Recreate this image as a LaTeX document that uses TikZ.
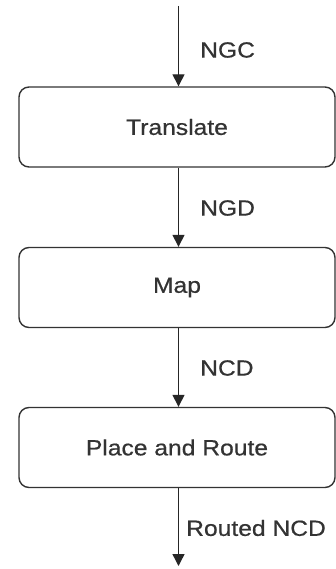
\documentclass[tikz,border=0pt]{standalone}
\usepackage{fontspec}
\setmainfont{Liberation Sans}[FakeStretch=1.12,FakeBold=0.6]
\usetikzlibrary{arrows.meta}
\begin{document}
\begin{tikzpicture}[x=1pt,y=-1pt,
  stage/.style={draw=black!80, line width=1.4pt, rounded corners=10pt,
    minimum width=316pt, minimum height=80pt, inner sep=0pt,
    font=\fontsize{22}{26}\selectfont, text=black!80},
  flow/.style={draw=black!85, line width=1.4pt,
    -{Triangle[length=12pt,width=12pt]}},
  lbl/.style={font=\fontsize{22}{26}\selectfont, text=black!80, anchor=west, inner sep=0pt}]
  \useasboundingbox (0,0) rectangle (335,569);
  \coordinate (in) at (178.5,6);
  \coordinate (out) at (178.5,566);
  \node[stage] (tr) at (177,127) {Translate};
  \node[stage] (mp) at (177,287.5) {Map};
  \node[stage] (pr) at (177,447.5) {Place and Route};
  \draw[flow] (in) -- (tr.north -| in);
  \draw[flow] (tr.south -| in) -- (mp.north -| in);
  \draw[flow] (mp.south -| in) -- (pr.north -| in);
  \draw[flow] (pr.south -| in) -- (out);
  \node[lbl] (l1) at (200,50) {NGC};
  \node[lbl] (l2) at (200,208) {NGD};
  \node[lbl] (l3) at (200,368) {NCD};
  \node[lbl] (l4) at (186,528) {Routed NCD};
\end{tikzpicture}
\end{document}
